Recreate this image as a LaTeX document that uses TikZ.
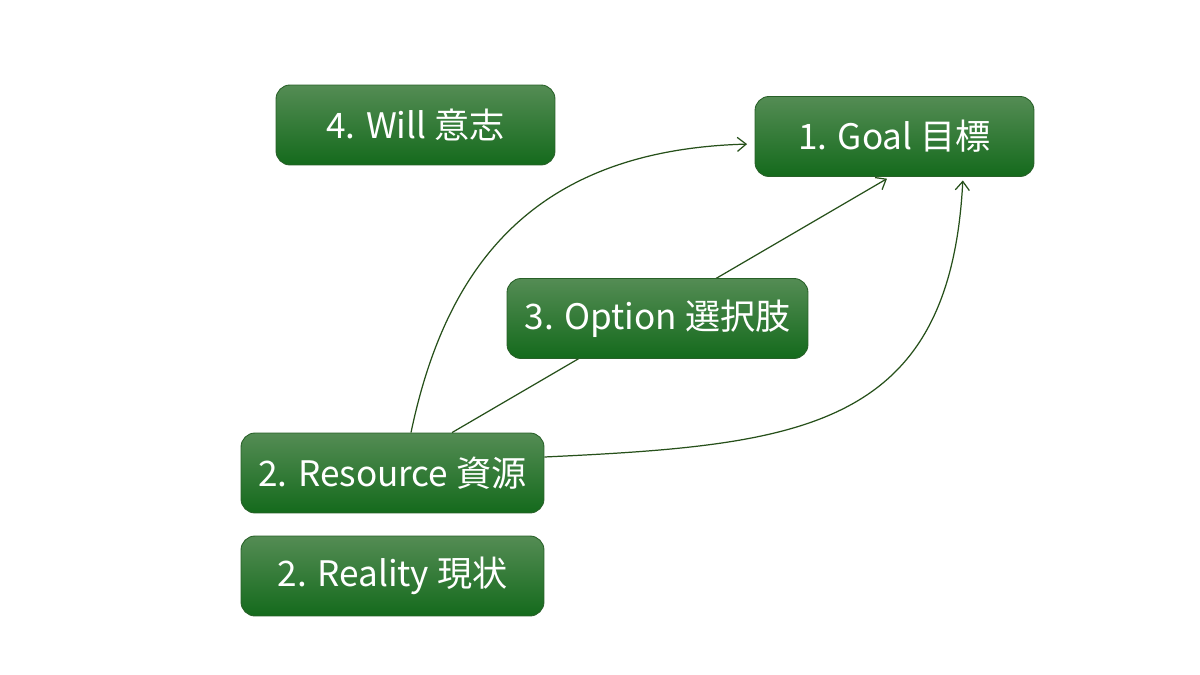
\documentclass[tikz,border=0pt]{standalone}
\usepackage{fontspec}
\setmainfont{Noto Sans CJK JP}
\usetikzlibrary{calc,backgrounds,arrows.meta}

\definecolor{boxtop}{RGB}{84,140,84}
\definecolor{boxmid}{RGB}{28,112,34}
\definecolor{boxbot}{RGB}{20,106,28}
\definecolor{boxline}{RGB}{40,96,40}
\definecolor{linkgreen}{RGB}{38,80,26}

\tikzset{
  gbox/.style={rectangle, rounded corners=8pt, draw=boxline, line width=0.5pt,
    top color=boxtop, middle color=boxmid, bottom color=boxbot,
    text=white, font=\fontsize{20}{22}\selectfont,
    minimum height=1.6cm, inner sep=0pt},
  link/.style={draw=linkgreen, line width=0.7pt},
  arr/.style={link, -{Straight Barb[length=5pt,width=8pt]}, shorten >=2pt}
}

\begin{document}
\begin{tikzpicture}[x=0.02cm, y=-0.02cm]
\useasboundingbox (0,0) rectangle (1200,675);

\node[gbox, minimum width=5.58cm] (will) at (415.5,125) {4. Will 意志};
\node[gbox, minimum width=5.58cm] (goal) at (894.5,136.5) {1. Goal 目標};
\node[gbox, minimum width=6.02cm] (option) at (657.5,318.5) {3. Option 選択肢};
\node[gbox, minimum width=6.06cm] (res) at (392.5,473) {2. Resource 資源};
\node[gbox, minimum width=6.06cm] (real) at (392.5,576) {2. Reality 現状};

% links from Resource to Goal
\begin{scope}[on background layer]
\draw[arr] ($(res.north)+(18.5,0)$) .. controls (445,270) and (530,150) .. ($(goal.west)+(-4,7.5)$);
\draw[arr] ($(res.north)+(59.5,0)$) -- ($(goal.south)+(-4.5,0)$);
\draw[arr] ($(res.east)+(0,-16)$) .. controls (800,445) and (950,430) .. ($(goal.south)+(68.5,0)$);
\end{scope}
\end{tikzpicture}
\end{document}
